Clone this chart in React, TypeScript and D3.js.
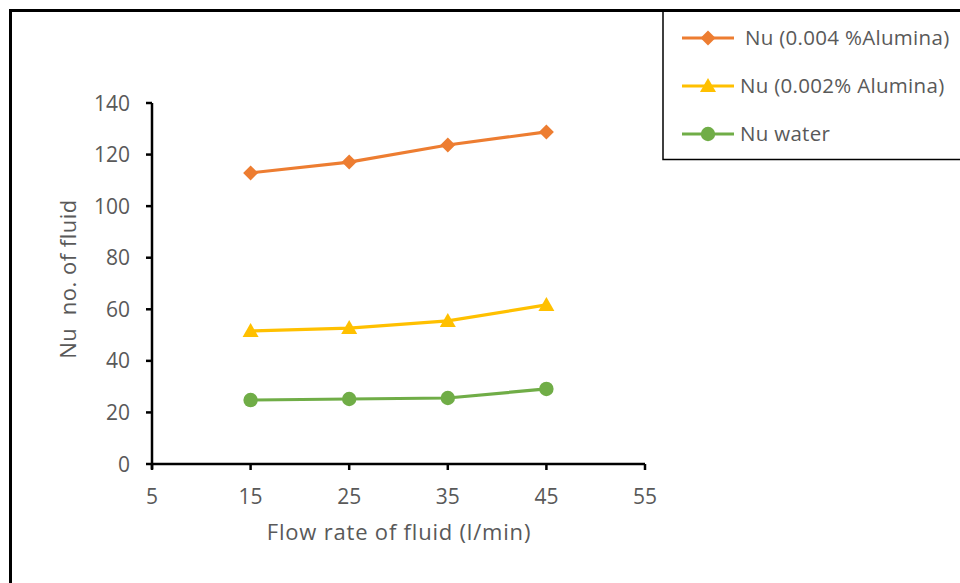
import React from "react";
import * as d3 from "d3";

const flowRates = [15, 25, 35, 45];
const nuAlumina004 = [112.9, 117.1, 123.7, 128.8];
const nuAlumina002 = [51.6, 52.7, 55.5, 61.7];
const nuWater = [24.8, 25.2, 25.6, 29.1];
const xTicks = [5, 15, 25, 35, 45, 55];
const yTicks = [0, 20, 40, 60, 80, 100, 120, 140];

const seriesNames = ["Nu (0.004 %Alumina)", "Nu (0.002% Alumina)", "Nu water"];
const seriesColors = ["#ED7D31", "#FFC000", "#70AD47"];
const seriesShapes = ["diamond", "triangle", "circle"];

const W = 960;
const H = 583;
const FONT = "'Open Sans', sans-serif";

function Marker({ shape, x, y, color }: { shape: string; x: number; y: number; color: string }) {
  if (shape === "diamond") {
    const r = 7.5;
    return <path d={`M${x},${y - r}L${x + r},${y}L${x},${y + r}L${x - r},${y}Z`} fill={color} />;
  }
  if (shape === "triangle") {
    const r = 8;
    return <path d={`M${x},${y - r}L${x + r},${y + r * 0.75}L${x - r},${y + r * 0.75}Z`} fill={color} />;
  }
  return <circle cx={x} cy={y} r={7.2} fill={color} />;
}

export default function App() {
  const x = d3.scaleLinear().domain([5, 55]).range([152, 645]);
  const y = d3.scaleLinear().domain([0, 140]).range([464, 103]);
  const data = [nuAlumina004, nuAlumina002, nuWater];
  const line = d3
    .line<[number, number]>()
    .x((d) => x(d[0]))
    .y((d) => y(d[1]));

  return (
    <svg
      width={W}
      height={H}
      style={{ position: "absolute", left: 0, top: 0, background: "#fff" }}
    >
      <rect x={0} y={0} width={W} height={H} fill="#fff" />
      <rect x={10.5} y={10.5} width={W + 20} height={H + 20} fill="none" stroke="#000" strokeWidth={3} />

      {/* axes */}
      <line x1={x(5)} x2={x(55)} y1={y(0)} y2={y(0)} stroke="#000" strokeWidth={2.5} />
      <line x1={x(5)} x2={x(5)} y1={y(0) + 5} y2={y(140)} stroke="#000" strokeWidth={2.5} />
      {yTicks.map((t) => (
        <g key={"y" + t}>
          <line x1={x(5) - 6} x2={x(5)} y1={y(t)} y2={y(t)} stroke="#000" strokeWidth={2.5} />
          <text
            x={130}
            y={y(t)}
            dy="0.36em"
            textAnchor="end"
            fontSize={21}
            fill="#595959"
            fontFamily={FONT}
          >
            {t}
          </text>
        </g>
      ))}
      {xTicks.map((t) => (
        <g key={"x" + t}>
          <line x1={x(t)} x2={x(t)} y1={y(0)} y2={y(0) + 6} stroke="#000" strokeWidth={2.5} />
          <text
            x={x(t)}
            y={496}
            dy="0.36em"
            textAnchor="middle"
            fontSize={21}
            fill="#595959"
            fontFamily={FONT}
          >
            {t}
          </text>
        </g>
      ))}
      <text
        x={399}
        y={532}
        dy="0.36em"
        textAnchor="middle"
        fontSize={22}
        letterSpacing={0.8}
        fill="#595959"
        fontFamily={FONT}
      >
        Flow rate of fluid (l/min)
      </text>
      <text
        transform={`translate(68,279) rotate(-90)`}
        dy="0.36em"
        textAnchor="middle"
        fontSize={22}
        letterSpacing={0.5}
        fill="#595959"
        fontFamily={FONT}
        style={{ whiteSpace: "pre" }}
      >
        {"Nu  no. of fluid"}
      </text>

      {/* series */}
      {data.map((vals, i) => {
        const pts = flowRates.map((f, j) => [f, vals[j]] as [number, number]);
        return (
          <g key={"s" + i}>
            <path d={line(pts) || ""} fill="none" stroke={seriesColors[i]} strokeWidth={3.2} />
            {pts.map((p, j) => (
              <Marker key={j} shape={seriesShapes[i]} x={x(p[0])} y={y(p[1])} color={seriesColors[i]} />
            ))}
          </g>
        );
      })}

      {/* legend */}
      <rect x={663} y={10.5} width={W} height={149} fill="#fff" stroke="#000" strokeWidth={1.5} />
      <line x1={10} x2={W} y1={10.5} y2={10.5} stroke="#000" strokeWidth={3} />
      {seriesNames.map((name, i) => {
        const cy = 38 + i * 48;
        return (
          <g key={"l" + i}>
            <line x1={682} x2={734} y1={cy} y2={cy} stroke={seriesColors[i]} strokeWidth={3.2} />
            <Marker shape={seriesShapes[i]} x={708} y={cy} color={seriesColors[i]} />
            <text
              x={i === 0 ? 745 : 740}
              y={cy}
              dy="0.36em"
              fontSize={20.5}
              letterSpacing={0.3}
              fill="#595959"
              fontFamily={FONT}
            >
              {name}
            </text>
          </g>
        );
      })}
    </svg>
  );
}
